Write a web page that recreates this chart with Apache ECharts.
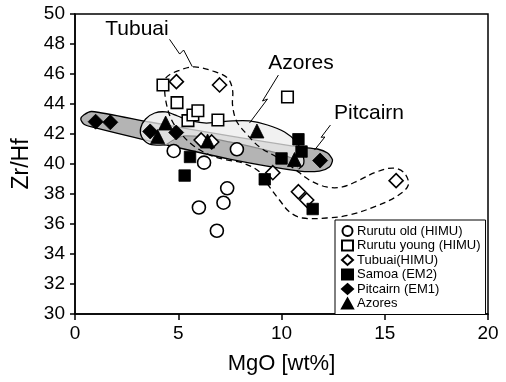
<!DOCTYPE html>
<html><head><meta charset="utf-8">
<script src="https://cdn.jsdelivr.net/npm/echarts@6/dist/echarts.min.js"></script>
<style>html,body{margin:0;padding:0;background:#fff}#c{width:506px;height:382px}</style>
</head><body><div id="c"></div><script>
var FONT = 'Liberation Sans, Arial, Helvetica, sans-serif';
var xTicks = [0, 5, 10, 15, 20];
var yTicks = [30, 32, 34, 36, 38, 40, 42, 44, 46, 48, 50];
var seriesNames = ['Rurutu old (HIMU)', 'Rurutu young (HIMU)', 'Tubuai(HIMU)', 'Samoa (EM2)', 'Pitcairn (EM1)', 'Azores'];

var rurutuOld = [[4.78,40.87],[6.25,40.09],[7.84,40.98],[7.37,38.38],[7.19,37.42],[6.0,37.1],[6.87,35.55]];
var rurutuYoung = [[4.26,45.27],[4.94,44.09],[5.47,42.89],[5.71,43.27],[5.95,43.55],[6.92,42.93],[10.29,44.47]];
var tubuai = [[4.91,45.49],[7.0,45.27],[6.11,41.6],[6.62,41.47],[9.58,39.42],[10.82,38.15],[11.22,37.6],[15.55,38.89]];
var samoa = [[5.57,40.47],[5.31,39.23],[10.82,41.65],[10.97,40.83],[10.0,40.37],[9.19,38.98],[11.51,37.0]];
var pitcairn = [[1.0,42.82],[1.71,42.78],[3.64,42.17],[4.9,42.1],[11.87,40.23]];
var azores = [[4.39,42.73],[4.0,41.83],[6.42,41.53],[8.81,42.2],[10.63,40.3]];

// field outlines (data coordinates)
var pitcairnField = [[0.42,43.27],[0.81,43.5],[3.61,42.8],[7.48,41.87],[10.87,41.13],[11.74,41.0],[12.23,40.73],[12.47,40.27],[12.32,39.8],[11.84,39.53],[10.87,39.53],[7.48,40.33],[3.61,41.53],[0.81,42.47],[0.42,42.67],[0.28,43.0]];
var azoresFieldTop = [[4.39,41.27],[3.61,41.33],[3.23,41.8],[3.18,42.4],[3.42,43.0],[3.86,43.4],[4.39,43.47],[4.97,43.2],[5.64,42.87],[6.37,42.73],[7.63,42.87],[8.45,42.87],[9.32,42.6],[10.15,42.13],[10.72,41.47],[11.02,40.67],[11.07,40.0],[10.82,39.67]];
var azoresFieldBottom = [[10.82,39.67],[10.48,40.4],[7.48,41.47],[5.31,41.87],[4.39,41.27]];
var tubuaiField = [[4.39,45.73],[5.10,46.27],[5.79,46.47],[6.66,46.2],[7.39,45.73],[7.63,44.93],[7.63,43.93],[7.82,42.87],[8.31,42.0],[8.94,41.13],[9.76,40.47],[10.58,39.73],[11.35,38.93],[12.18,38.47],[12.95,38.47],[13.77,38.93],[14.60,39.47],[15.42,39.73],[15.95,39.4],[16.14,38.6],[15.61,37.87],[14.60,37.2],[13.29,36.6],[12.18,36.4],[11.02,36.4],[10.39,36.8],[9.90,37.6],[9.42,38.47],[8.94,39.47],[8.12,40.07],[7.34,40.27],[6.52,40.6],[5.69,41.27],[5.07,42.13],[4.68,42.93],[4.44,43.93],[4.34,44.93]];
var tubuaiLeader = [[4.58,48.31],[5.07,47.33],[5.26,47.6],[5.68,46.49]];
var azoresLeader = [[9.85,45.93],[9.08,44.2],[9.32,44.33],[8.45,42.73]];
var pitcairnLeader = [[12.37,42.6],[11.92,41.78],[12.1,41.8],[11.6,40.93]];

var chart = echarts.init(document.getElementById('c'), null, {renderer:'canvas'});

function polySeries(pts, style, smooth, z){
  return {type:'custom', coordinateSystem:'cartesian2d', silent:true, z:z, data:[pts[0]], encode:{x:0,y:1},
    renderItem:function(params, api){
      return {type:'polygon', shape:{points:pts.map(function(d){return api.coord(d);}), smooth:smooth}, style:style};
    }};
}
function azoresSeries(z){
  var all = azoresFieldTop.concat(azoresFieldBottom.slice(1, -1));
  return {type:'custom', coordinateSystem:'cartesian2d', silent:true, z:z, data:[all[0]], encode:{x:0,y:1},
    renderItem:function(params, api){
      var c = function(d){return api.coord(d);};
      return {type:'group', children:[
        {type:'polygon', shape:{points:all.map(c), smooth:0.3}, style:{fill:'rgba(236,236,236,0.75)', stroke:null}},
        {type:'polyline', shape:{points:azoresFieldTop.map(c), smooth:0.3}, style:{fill:null, stroke:'#000', lineWidth:1.3}},
        {type:'polyline', shape:{points:azoresFieldBottom.map(c), smooth:0.3}, style:{fill:null, stroke:'#8a8a8a', lineWidth:1.2}}
      ]};
    }};
}
function leader(pts){
  return {type:'line', data:pts, symbol:'none', silent:true, z:4, lineStyle:{color:'#000', width:1}, animation:false};
}
function scatter(name, data, symbol, size, filled){
  return {type:'scatter', name:name, data:data, symbol:symbol, symbolSize:size, z:6,
    itemStyle:{color: filled ? '#000' : '#fff', borderColor:'#000', borderWidth: filled ? 0.8 : 1.6, opacity:1}};
}

var option = {
  animation:false,
  grid:{left:75, right:18, top:14, bottom:68, show:true, borderColor:'#000', borderWidth:1.5, backgroundColor:'transparent'},
  xAxis:{type:'value', min:xTicks[0], max:xTicks[xTicks.length-1], interval:5,
    name:'MgO [wt%]', nameLocation:'middle', nameGap:39, nameTextStyle:{fontFamily:FONT, fontSize:22, color:'#000'},
    axisLine:{lineStyle:{color:'#000', width:1.5}}, axisTick:{length:6, lineStyle:{color:'#000', width:1.5}},
    axisLabel:{fontFamily:FONT, fontSize:19, color:'#000', margin:10}, splitLine:{show:false}},
  yAxis:{type:'value', min:yTicks[0], max:yTicks[yTicks.length-1], interval:2,
    name:'Zr/Hf', nameLocation:'middle', nameGap:42, nameTextStyle:{fontFamily:FONT, fontSize:23, color:'#000'},
    axisLine:{lineStyle:{color:'#000', width:1.5}}, axisTick:{length:5, lineStyle:{color:'#000', width:1.5}},
    axisLabel:{fontFamily:FONT, fontSize:19, color:'#000', margin:10}, splitLine:{show:false}},
  legend:{data:seriesNames, orient:'vertical', left:335, top:220, padding:[4,5,4,6], itemGap:0.5,
    itemWidth:11, itemHeight:10, backgroundColor:'#fff', borderColor:'#000', borderWidth:1, borderRadius:0,
    textStyle:{fontFamily:FONT, fontSize:13, color:'#000', lineHeight:14, padding:[0,0,0,-1]}},
  graphic:[
    {type:'text', left:137, top:29, style:{text:'Tubuai', fontFamily:FONT, fontSize:21, fill:'#000', textAlign:'center', textVerticalAlign:'middle'}, x:137, y:29},
    {type:'text', style:{text:'Azores', x:301, y:63, fontFamily:FONT, fontSize:21, fill:'#000', align:'center', verticalAlign:'middle'}},
    {type:'text', style:{text:'Pitcairn', x:369, y:113, fontFamily:FONT, fontSize:21, fill:'#000', align:'center', verticalAlign:'middle'}}
  ],
  series:[
    polySeries(pitcairnField, {fill:'#b4b4b4', stroke:'#000', lineWidth:1.3}, 0.25, 1),
    azoresSeries(2),
    polySeries(tubuaiField, {fill:null, stroke:'#000', lineWidth:1.3, lineDash:[6,4]}, 0.35, 3),
    leader(tubuaiLeader), leader(azoresLeader), leader(pitcairnLeader),
    scatter(seriesNames[0], rurutuOld, 'circle', 13, false),
    scatter(seriesNames[1], rurutuYoung, 'rect', 11.5, false),
    scatter(seriesNames[2], tubuai, 'diamond', 14, false),
    scatter(seriesNames[3], samoa, 'rect', 11.5, true),
    scatter(seriesNames[4], pitcairn, 'diamond', 15, true),
    scatter(seriesNames[5], azores, 'triangle', 14, true)
  ]
};
option.graphic[0] = {type:'text', style:{text:'Tubuai', x:137, y:29, fontFamily:FONT, fontSize:21, fill:'#000', align:'center', verticalAlign:'middle'}};
chart.setOption(option);
</script></body></html>
